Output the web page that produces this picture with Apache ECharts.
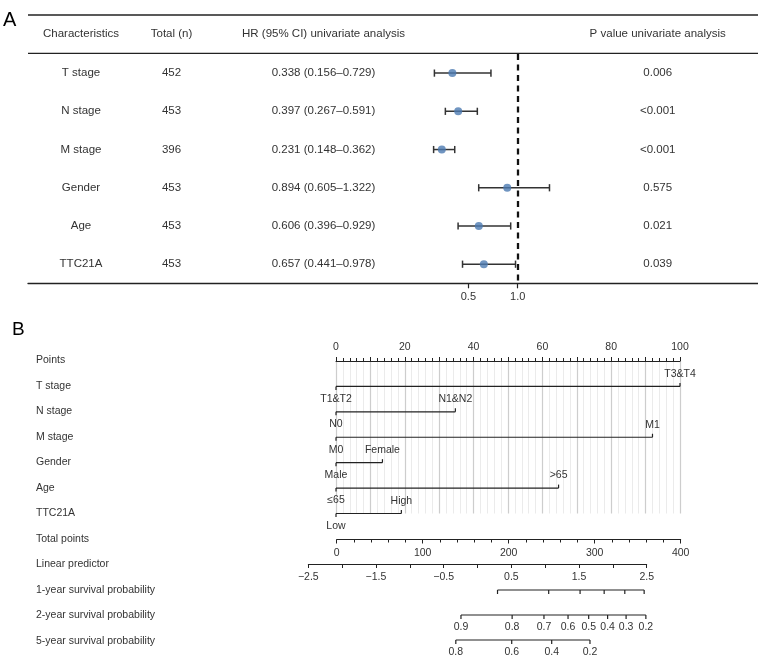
<!DOCTYPE html>
<html><head><meta charset="utf-8">
<script src="https://cdn.jsdelivr.net/npm/echarts@6/dist/echarts.min.js"></script>
<style>html,body{margin:0;padding:0;background:#fff}#c{width:758px;height:659px}</style>
</head><body><div id="c"></div>
<script>
// ---------- Panel A data ----------
const characteristics = ['T stage','N stage','M stage','Gender','Age','TTC21A'];
const totalN = [452,453,396,453,453,453];
const hr = [0.338,0.397,0.231,0.894,0.606,0.657];
const hrLow = [0.156,0.267,0.148,0.605,0.396,0.441];
const hrHigh = [0.729,0.591,0.362,1.322,0.929,0.978];
const pValues = ['0.006','<0.001','<0.001','0.575','0.021','0.039'];
const tableHeaders = ['Characteristics','Total (n)','HR (95% CI) univariate analysis','P value univariate analysis'];
const forestTicks = [0.5, 1.0];
const refValue = 1.0;

// ---------- Panel B data ----------
const nomoVars = ['T stage','N stage','M stage','Gender','Age','TTC21A'];
const nomoMaxPoints = [100, 34.7, 92.0, 13.5, 64.7, 19.0];
const nomoLowLabels = ['T1&T2','N0','M0','Male','\u226465','Low'];
const nomoHighLabels = ['T3&T4','N1&N2','M1','Female','>65','High'];
const bottomRowNames = ['Total points','Linear predictor','1-year survival probability','2-year survival probability','5-year survival probability'];
const surv1Probs = [0.9,0.8,0.7,0.6,0.5,0.4];            // tick labels not printed in the figure
const surv1TotalPoints = [187, 246.5, 283, 311, 335, 357.5];
const surv2Probs = [0.9,0.8,0.7,0.6,0.5,0.4,0.3,0.2];
const surv2TotalPoints = [144.5, 204, 241, 269, 293, 315, 336.5, 359.5];
const surv5Probs = [0.8,0.6,0.4,0.2];
const surv5TotalPoints = [138.5, 203.5, 250, 294.5];

// ---------- layout ----------
const FONT = '"Liberation Sans", Arial, Helvetica, sans-serif';
const TXT = '#333';
const LINE = '#222';
const fUnit = 98.7, fOnePx = 517.7, fLeft = 28, fRight = 758;
const fZeroPx = fOnePx - fUnit * refValue;
const colX = [81, 171.5, 323.5, 657.7];

const chart = echarts.init(document.getElementById('c'), null, {renderer: 'canvas'});

function txt(text, x, y, opt) {
  return Object.assign({type: 'text', style: Object.assign({text, x, y, fill: TXT, font: '11.5px ' + FONT, align: 'center', verticalAlign: 'middle'}, opt || {})});
}

const rowLabelNames = ['Points'].concat(nomoVars, bottomRowNames);
const rowLabelY = [360, 386, 411.5, 437, 462.5, 488, 513.5, 539, 564.5, 590, 615.5, 641];

const graphics = [
  {type: 'text', style: {text: 'A', x: 3, y: 20, font: '20px ' + FONT, fill: '#000', verticalAlign: 'middle'}},
  {type: 'text', style: {text: 'B', x: 12, y: 330, font: '19px ' + FONT, fill: '#000', verticalAlign: 'middle'}},
  {type: 'line', shape: {x1: fLeft, y1: 15, x2: fRight, y2: 15}, style: {stroke: LINE, lineWidth: 1.3}},
  {type: 'line', shape: {x1: fLeft, y1: 53.3, x2: fRight, y2: 53.3}, style: {stroke: LINE, lineWidth: 1.3}}
];
tableHeaders.forEach((h, k) => graphics.push(txt(h, colX[k], 34)));
rowLabelNames.forEach((n, k) => graphics.push(txt(n, 36, rowLabelY[k], {align: 'left', font: '10.5px ' + FONT})));

const fmtMinus = v => (v < 0 ? '\u2212' + Math.abs(v) : String(v));

function survRender(probs, tps, showLabels) {
  return {probs, tps, showLabels};
}
const survAxes = [survRender(surv1Probs, surv1TotalPoints, false), survRender(surv2Probs, surv2TotalPoints, true), survRender(surv5Probs, surv5TotalPoints, true)];

const option = {
  animation: false,
  backgroundColor: '#fff',
  textStyle: {fontFamily: FONT},
  graphic: graphics,
  grid: [
    {left: fLeft, top: 54, width: fRight - fLeft, height: 229.3},
    {left: 336, top: 361, width: 344, height: 152.5},
    {left: 336.7, top: 530, width: 344, height: 9.5},
    {left: 308.3, top: 555, width: 338.4, height: 9},
    {left: 336.7, top: 565, width: 344, height: 75}
  ],
  xAxis: [
    {gridIndex: 0, type: 'value', min: (fLeft - fZeroPx) / fUnit, max: (fRight - fZeroPx) / fUnit,
      axisLine: {show: true, lineStyle: {color: LINE, width: 1.3}},
      axisTick: {show: true, customValues: forestTicks, length: 5, lineStyle: {color: LINE, width: 1.2}},
      axisLabel: {show: true, customValues: forestTicks, formatter: v => v.toFixed(1), color: TXT, fontSize: 11, margin: 8, fontFamily: FONT},
      splitLine: {show: false}},
    {gridIndex: 1, type: 'value', position: 'top', min: 0, max: 100, interval: 10,
      axisLine: {show: true, onZero: false, lineStyle: {color: LINE, width: 1}},
      axisTick: {show: true, length: 4, lineStyle: {color: LINE}},
      minorTick: {show: true, splitNumber: 5, length: 3, lineStyle: {color: LINE}},
      axisLabel: {formatter: v => (v % 20 === 0 ? String(v) : ''), color: TXT, fontSize: 10.5, margin: 8, fontFamily: FONT},
      splitLine: {show: true, lineStyle: {color: '#cdcdcd', width: 1.2}},
      minorSplitLine: {show: true, lineStyle: {color: '#ebebeb', width: 1}}},
    {gridIndex: 2, type: 'value', position: 'bottom', min: 0, max: 400, interval: 100,
      axisLine: {show: true, onZero: false, lineStyle: {color: LINE, width: 1}},
      axisTick: {show: true, length: 4, lineStyle: {color: LINE}},
      minorTick: {show: true, splitNumber: 5, length: 3, lineStyle: {color: LINE}},
      axisLabel: {color: TXT, fontSize: 10.5, margin: 8, fontFamily: FONT},
      splitLine: {show: false}},
    {gridIndex: 3, type: 'value', position: 'bottom', min: -2.5, max: 2.5, interval: 0.5,
      axisLine: {show: true, onZero: false, lineStyle: {color: LINE, width: 1}},
      axisTick: {show: true, length: 4, lineStyle: {color: LINE}},
      axisLabel: {formatter: v => (Math.abs(Math.round((v + 2.5) * 10)) % 10 === 0 ? fmtMinus(v) : ''), color: TXT, fontSize: 10.5, margin: 8, fontFamily: FONT},
      splitLine: {show: false}},
    {gridIndex: 4, type: 'value', min: 0, max: 400, show: false}
  ],
  yAxis: [
    {gridIndex: 0, type: 'category', data: characteristics, inverse: true, show: false},
    {gridIndex: 1, type: 'value', min: 0, max: 6, inverse: true, show: false},
    {gridIndex: 2, type: 'value', min: 0, max: 1, show: false},
    {gridIndex: 3, type: 'value', min: 0, max: 1, show: false},
    {gridIndex: 4, type: 'value', min: 0, max: 3, inverse: true, show: false}
  ],
  series: [
    // table text rows
    {type: 'custom', xAxisIndex: 0, yAxisIndex: 0, silent: true,
      data: characteristics.map((c, i) => [hr[i], i]),
      renderItem: (params, api) => {
        const i = params.dataIndex;
        const y = api.coord([0, i])[1];
        const hrText = hr[i].toFixed(3) + ' (' + hrLow[i].toFixed(3) + '\u2013' + hrHigh[i].toFixed(3) + ')';
        const cells = [characteristics[i], String(totalN[i]), hrText, pValues[i]];
        return {type: 'group', children: cells.map((t, k) => txt(t, colX[k], y))};
      }},
    // error bars
    {type: 'custom', xAxisIndex: 0, yAxisIndex: 0, silent: true,
      data: characteristics.map((c, i) => [hrLow[i], i, hrHigh[i]]),
      encode: {x: [0, 2], y: 1},
      renderItem: (params, api) => {
        const a = api.coord([api.value(0), api.value(1)]);
        const b = api.coord([api.value(2), api.value(1)]);
        const h = 3.6, st = {stroke: '#333', lineWidth: 1.5};
        return {type: 'group', children: [
          {type: 'line', shape: {x1: a[0], y1: a[1], x2: b[0], y2: b[1]}, style: st},
          {type: 'line', shape: {x1: a[0], y1: a[1] - h, x2: a[0], y2: a[1] + h}, style: st},
          {type: 'line', shape: {x1: b[0], y1: b[1] - h, x2: b[0], y2: b[1] + h}, style: st}
        ]};
      }},
    // HR points + reference line
    {type: 'scatter', xAxisIndex: 0, yAxisIndex: 0, silent: true, symbolSize: 8,
      itemStyle: {color: '#4C7BB1'}, z: 5,
      data: hr.map((v, i) => [v, i]),
      markLine: {silent: true, symbol: 'none', label: {show: false},
        lineStyle: {color: '#111', type: [6, 4.5], width: 2.3},
        data: [{xAxis: refValue}]}},
    // nomogram variable axes
    {type: 'custom', xAxisIndex: 1, yAxisIndex: 1, silent: true,
      data: nomoMaxPoints.map((m, i) => [0, i + 1, m]),
      renderItem: (params, api) => {
        const i = params.dataIndex;
        const p0 = api.coord([0, api.value(1)]);
        const p1 = api.coord([api.value(2), api.value(1)]);
        const st = {stroke: LINE, lineWidth: 1.2};
        const f = '10.5px ' + FONT;
        return {type: 'group', children: [
          {type: 'line', shape: {x1: p0[0], y1: p0[1], x2: p1[0], y2: p1[1]}, style: st},
          {type: 'line', shape: {x1: p0[0], y1: p0[1], x2: p0[0], y2: p0[1] + 3.5}, style: st},
          {type: 'line', shape: {x1: p1[0], y1: p1[1], x2: p1[0], y2: p1[1] - 3.5}, style: st},
          txt(nomoLowLabels[i], p0[0], p0[1] + 12.5, {font: f}),
          txt(nomoHighLabels[i], p1[0], p1[1] - 12.5, {font: f})
        ]};
      }},
    // survival probability axes
    {type: 'custom', xAxisIndex: 4, yAxisIndex: 4, silent: true,
      data: survAxes.map((s, i) => [s.tps[0], i + 1]),
      renderItem: (params, api) => {
        const s = survAxes[params.dataIndex];
        const row = api.value(1);
        const pts = s.tps.map(t => api.coord([t, row]));
        const st = {stroke: LINE, lineWidth: 1.2};
        const f = '10.5px ' + FONT;
        const ch = [{type: 'line', shape: {x1: pts[0][0], y1: pts[0][1], x2: pts[pts.length - 1][0], y2: pts[0][1]}, style: st}];
        pts.forEach((p, k) => {
          ch.push({type: 'line', shape: {x1: p[0], y1: p[1], x2: p[0], y2: p[1] + 4}, style: st});
          if (s.showLabels) ch.push(txt(String(s.probs[k]), p[0], p[1] + 12.5, {font: f}));
        });
        return {type: 'group', children: ch};
      }}
  ]
};
chart.setOption(option);
</script></body></html>
